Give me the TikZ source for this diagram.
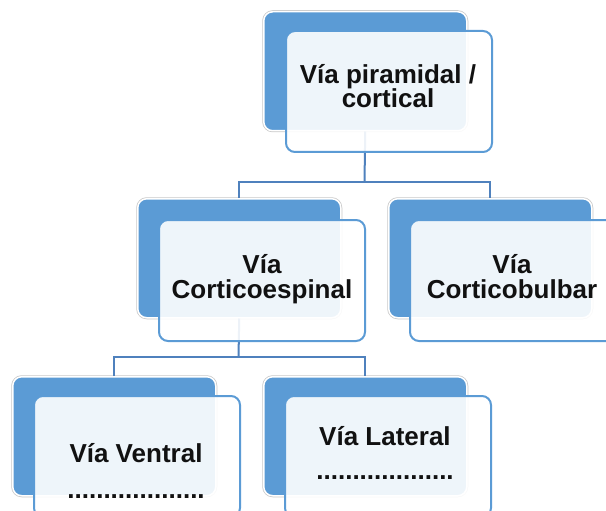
\documentclass[tikz,border=0pt]{standalone}
\usepackage{fontspec}
\setmainfont{Liberation Sans}
\definecolor{accent}{HTML}{5B9BD5}
\definecolor{linkblue}{HTML}{4F81BD}
\definecolor{ink}{HTML}{111111}

\begin{document}
\begin{tikzpicture}[x=1pt, y=-1pt,
  backbox/.style={anchor=north west, inner sep=0pt, minimum width=203, minimum height=119,
    fill=accent, draw=white, line width=1.5pt, rounded corners=9pt,
    preaction={draw=black!22, line width=3pt}},
  frontbox/.style={anchor=north west, inner sep=0pt, minimum width=206, minimum height=121,
    fill=white, fill opacity=0.9, draw=accent, line width=2pt, rounded corners=9pt},
  link/.style={draw=linkblue, line width=2pt},
  label/.style={anchor=base, inner sep=0pt, align=center, text=ink,
    font=\bfseries\fontsize{26}{24.5}\selectfont}
]
\useasboundingbox (0,0) rectangle (606,511);
\clip (0,0) rectangle (606,511);

% back panels
\node[backbox] (b1) at (263,11)  {};
\node[backbox] (b2) at (137,198) {};
\node[backbox] (b3) at (388,198) {};
\node[backbox] (b4) at (12,376)  {};
\node[backbox] (b5) at (263,376) {};

% tree connectors (pass behind the translucent front panels)
\coordinate (j1) at (364.5,182);
\coordinate (j2) at (238.5,357);
\draw[link] (b1.south) -- (j1);
\draw[link] (b2.north) |- (j1) -| (b3.north);
\draw[link] (b2.south) -- (j2);
\draw[link] (b4.north) |- (j2) -| (b5.north);

% front panels
\node[frontbox] (f1) at (285,30)  {};
\node[frontbox] (f2) at (158,219) {};
\node[frontbox] (f3) at (409,219) {};
\node[frontbox] (f4) at (33,395)  {};
\node[frontbox] (f5) at (284,395) {};

% labels (anchored at the baseline of the last line)
\node[label] (t1) at (388,108) {Vía piramidal /\\cortical};
\node[label] (t2) at (262,298) {Vía\\Corticoespinal};
\node[label] (t3) at (512,298) {Vía\\Corticobulbar};
\node[label] (t4) at (136,498) {Vía Ventral\\[11pt]...................};
\node[label] (t5) at (385,479) {Vía Lateral\\[9pt]...................};
\end{tikzpicture}
\end{document}
